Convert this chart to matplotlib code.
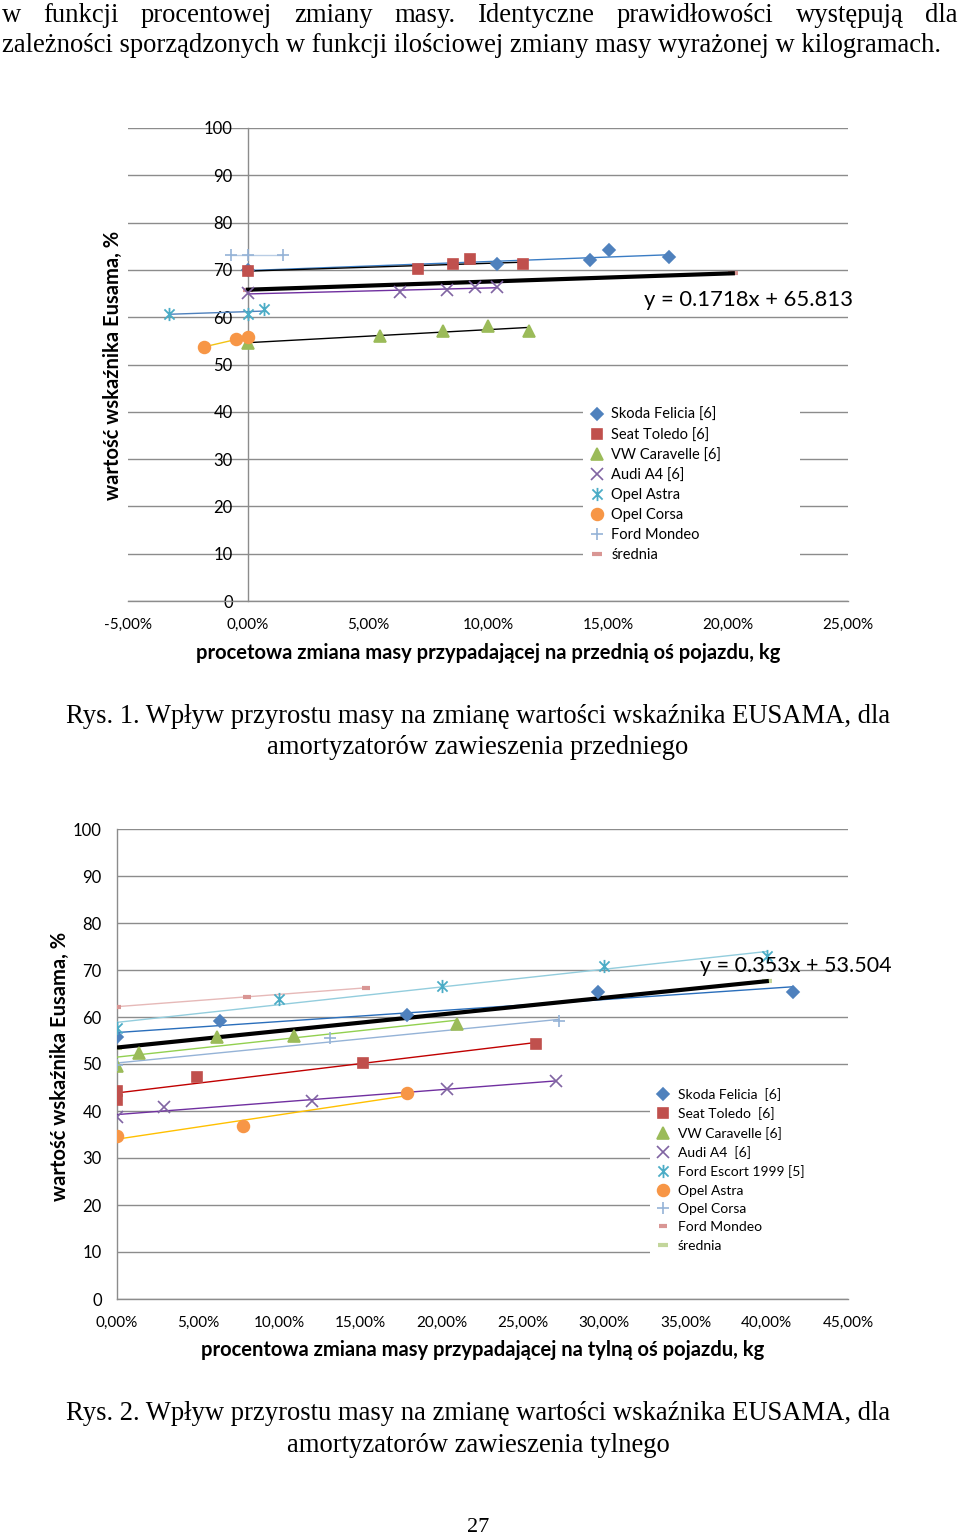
import matplotlib
matplotlib.use("Agg")
import matplotlib.pyplot as plt
import numpy as np
from matplotlib.path import Path
from matplotlib.patches import Rectangle
from matplotlib.ticker import FuncFormatter

W, H = 960, 1540
SANS = "Lato"
SERIF = "Liberation Serif"

# %% Data: Rys. 1 (front axle)
skoda1_x = [0.0, 10.37, 14.23, 15.06, 17.55]
skoda1_y = [70.0, 71.2, 72.1, 74.2, 72.7]
seat1_x = [0.0, 7.1, 8.55, 9.25, 11.45]
seat1_y = [69.8, 70.2, 71.2, 72.3, 71.2]
vw1_x = [0.0, 5.48, 8.13, 10.0, 11.7]
vw1_y = [54.5, 56.0, 57.1, 58.1, 57.1]
audi1_x = [0.0, 6.35, 8.3, 9.46, 10.37]
audi1_y = [65.1, 65.3, 65.75, 66.4, 66.4]
astra1_x = [-3.28, 0.0, 0.66]
astra1_y = [60.7, 60.7, 61.7]
corsa1_x = [-1.83, -0.5, 0.0]
corsa1_y = [53.7, 55.4, 55.8]
mondeo1_x = [-0.7, 0.0, 1.45]
mondeo1_y = [73.2, 73.2, 73.2]
srednia1_x = [0.0, 20.2]
srednia1_coef = (0.1718, 65.813)
labels1 = ["Skoda Felicia [6]", "Seat Toledo [6]", "VW Caravelle [6]", "Audi A4 [6]",
           "Opel Astra", "Opel Corsa", "Ford Mondeo", "średnia"]
xticks1 = [-5, 0, 5, 10, 15, 20, 25]

# %% Data: Rys. 2 (rear axle)
skoda2_x = [0.0, 6.34, 17.86, 29.6, 41.6]
skoda2_y = [55.7, 59.1, 60.4, 65.3, 65.3]
seat2_x = [0.0, 0.0, 4.9, 15.15, 25.8]
seat2_y = [44.3, 42.3, 47.2, 50.2, 54.3]
vw2_x = [0.0, 1.35, 6.16, 10.9, 20.9]
vw2_y = [49.6, 52.3, 55.7, 56.0, 58.5]
audi2_x = [0.0, 2.9, 12.0, 20.3, 27.0]
audi2_y = [38.7, 40.8, 42.1, 44.7, 46.4]
escort2_x = [0.0, 10.0, 20.0, 30.0, 40.0]
escort2_y = [57.7, 63.8, 66.6, 70.9, 73.0]
astra2_x = [0.0, 7.76, 17.86]
astra2_y = [34.7, 36.8, 43.8]
corsa2_x = [0.0, 13.1, 27.2]
corsa2_y = [49.8, 55.5, 59.1]
mondeo2_x = [0.0, 8.0, 15.3]
mondeo2_y = [62.2, 64.3, 66.2]
srednia2_x = [0.0, 40.0]
srednia2_coef = (0.353, 53.504)
labels2 = ["Skoda Felicia  [6]", "Seat Toledo  [6]", "VW Caravelle [6]", "Audi A4  [6]",
           "Ford Escort 1999 [5]", "Opel Astra", "Opel Corsa", "Ford Mondeo", "średnia"]
xticks2 = [0, 5, 10, 15, 20, 25, 30, 35, 40, 45]
yticks = list(range(0, 101, 10))

# Excel-like asterisk marker (X with vertical bar)
ASTERISK = Path([(-1, -1), (1, 1), (-1, 1), (1, -1), (0, -1.3), (0, 1.3)],
                [Path.MOVETO, Path.LINETO] * 3)

BLUE, RED, GREEN, PURPLE = "#4F81BD", "#C0504D", "#9BBB59", "#8064A2"
TEAL, ORANGE, LBLUE, PINK = "#4BACC6", "#F79646", "#95B3D7", "#D99694"
GRID = "#8C8C8C"


def pct(v, _):
    return f"{v:.2f}%".replace(".", ",")


def series(ax, x, y, color, marker, ms, trend, lw=1.0, mew=1.2):
    h, = ax.plot(x, y, ls="none", marker=marker, ms=ms, color=color,
                 mec=color, mew=mew, zorder=5)
    k, b = np.polyfit(x, y, 1)
    xs = np.array([min(x), max(x)])
    ax.plot(xs, k * xs + b, color=trend, lw=lw, zorder=3)
    return h


def average(ax, xs, coef, color):
    xs = np.array(xs)
    h, = ax.plot(xs, coef[0] * xs + coef[1], ls="none", marker="_", ms=7,
                 mew=3, color=color, zorder=2.8)
    ax.plot(xs, coef[0] * xs + coef[1], color="black", lw=3.0, zorder=3.5)
    return h


def style_axes(ax, xlim, xticks):
    ax.set_xlim(*xlim)
    ax.set_ylim(0, 100)
    ax.set_xticks(xticks)
    ax.set_yticks(yticks)
    ax.xaxis.set_major_formatter(FuncFormatter(pct))
    ax.set_axisbelow(True)
    ax.yaxis.grid(True, color=GRID, lw=1.0)
    for s in ["top", "right"]:
        ax.spines[s].set_visible(False)
    for s in ["left", "bottom"]:
        ax.spines[s].set_color(GRID)
        ax.spines[s].set_linewidth(1.0)
    ax.spines["left"].set_position(("data", 0))
    ax.tick_params(axis="y", length=0, pad=11, labelsize=12)
    ax.tick_params(axis="x", length=0, pad=12, labelsize=11)
    for t in ax.get_xticklabels() + ax.get_yticklabels():
        t.set_fontfamily(SANS)


def fx(px):
    return px / W


def fy(py):
    return 1 - py / H


def justify(fig, text, py, x0, x1, **kw):
    words = text.split()
    r = fig.canvas.get_renderer()
    arts = [fig.text(0, fy(py), w, va="center", **kw) for w in words]
    widths = [a.get_window_extent(r).width for a in arts]
    gap = (x1 - x0 - sum(widths)) / (len(words) - 1)
    x = x0
    for a, w in zip(arts, widths):
        a.set_x(fx(x))
        x += w + gap


fig = plt.figure(figsize=(W / 100, H / 100), dpi=100)
fig.patch.set_facecolor("white")

# %% Body text
serif = dict(family=SERIF, fontsize=19.2, color="black")
justify(fig, "w funkcji procentowej zmiany masy. Identyczne prawidłowości występują dla",
        15, 2, 958, **serif)
fig.text(fx(2), fy(45), "zależności sporządzonych w funkcji ilościowej zmiany masy wyrażonej w kilogramach.",
         va="center", ha="left", **serif)

label_kw = dict(family=SANS, fontweight="bold", fontsize=14.5)

# %% Rys. 1
ax1 = fig.add_axes([fx(128), fy(601), 720 / W, 473 / H])
style_axes(ax1, (-5, 25), xticks1)
h1 = [
    series(ax1, skoda1_x, skoda1_y, BLUE, "D", 6.5, "#3A7CC4"),
    series(ax1, seat1_x, seat1_y, RED, "s", 7.5, "black"),
    series(ax1, vw1_x, vw1_y, GREEN, "^", 8, "black"),
    series(ax1, audi1_x, audi1_y, PURPLE, "x", 8, "#7030A0"),
    series(ax1, astra1_x, astra1_y, TEAL, ASTERISK, 9.5, BLUE, mew=1.3),
    series(ax1, corsa1_x, corsa1_y, ORANGE, "o", 8.5, "#F2C314"),
    series(ax1, mondeo1_x, mondeo1_y, LBLUE, "+", 9, "#B9CDE5"),
    average(ax1, srednia1_x, srednia1_coef, PINK),
]
ax1.text(16.5, 63.6, "y = 0.1718x + 65.813", fontsize=15.8, family=SANS,
         va="center", ha="left", zorder=6)
ax1.add_patch(Rectangle((fx(583), fy(566)), fx(800) - fx(583), fy(400) - fy(566),
                        transform=fig.transFigure, facecolor="white",
                        edgecolor="none", zorder=1.5))
ax1.legend(h1, labels1, loc="upper left", bbox_to_anchor=(fx(583), fy(401)),
           bbox_transform=fig.transFigure, frameon=False, borderpad=0,
           handlelength=0.9, handletextpad=0.55, labelspacing=0.41,
           prop=dict(family=SANS, size=10.5))
fig.text(fx(488), fy(653), "procetowa zmiana masy przypadającej na przednią oś pojazdu, kg",
         ha="center", va="center", **label_kw)
fig.text(fx(113), fy(365), "wartość wskaźnika Eusama, %", rotation=90,
         ha="center", va="center", **label_kw)
fig.text(fx(478), fy(716), "Rys. 1. Wpływ przyrostu masy na zmianę wartości wskaźnika EUSAMA, dla",
         ha="center", va="center", **serif)
fig.text(fx(478), fy(747), "amortyzatorów zawieszenia przedniego",
         ha="center", va="center", **serif)

# %% Rys. 2
ax2 = fig.add_axes([fx(117), fy(1299), 731 / W, 470 / H])
style_axes(ax2, (0, 45), xticks2)
h2 = [
    series(ax2, skoda2_x, skoda2_y, BLUE, "D", 6.5, "#2A6EBB"),
    series(ax2, seat2_x, seat2_y, RED, "s", 7.5, "#C00000"),
    series(ax2, vw2_x, vw2_y, GREEN, "^", 8, "#92D050"),
    series(ax2, audi2_x, audi2_y, PURPLE, "x", 8, "#7030A0"),
    series(ax2, escort2_x, escort2_y, TEAL, ASTERISK, 9.5, "#93CDDD", mew=1.3),
    series(ax2, astra2_x, astra2_y, ORANGE, "o", 8.5, "#FFC000"),
    series(ax2, corsa2_x, corsa2_y, LBLUE, "+", 9, LBLUE),
    series(ax2, mondeo2_x, mondeo2_y, PINK, "_", 6, "#E6B9B8", mew=3),
    average(ax2, srednia2_x, srednia2_coef, "#C3D69B"),
]
ax2.text(35.9, 70.85, "y = 0.353x + 53.504", fontsize=15.5, family=SANS,
         va="center", ha="left", zorder=6, clip_on=False)
ax2.add_patch(Rectangle((fx(650), fy(1254)), fx(848) - fx(650), fy(1082) - fy(1254),
                        transform=fig.transFigure, facecolor="white",
                        edgecolor="none", zorder=1.5))
ax2.legend(h2, labels2, loc="upper left", bbox_to_anchor=(fx(650), fy(1081)),
           bbox_transform=fig.transFigure, frameon=False, borderpad=0,
           handlelength=0.9, handletextpad=0.6, labelspacing=0.46,
           prop=dict(family=SANS, size=10))
fig.text(fx(483), fy(1350), "procentowa zmiana masy przypadającej na tylną oś pojazdu, kg",
         ha="center", va="center", **label_kw)
fig.text(fx(60), fy(1066), "wartość wskaźnika Eusama, %", rotation=90,
         ha="center", va="center", **label_kw)
fig.text(fx(478), fy(1414), "Rys. 2. Wpływ przyrostu masy na zmianę wartości wskaźnika EUSAMA, dla",
         ha="center", va="center", **serif)
fig.text(fx(478), fy(1445), "amortyzatorów zawieszenia tylnego",
         ha="center", va="center", **serif)

fig.text(fx(478), fy(1527), "27", ha="center", va="center", family=SERIF, fontsize=16)

fig.savefig("out.png", dpi=100, facecolor="white")
